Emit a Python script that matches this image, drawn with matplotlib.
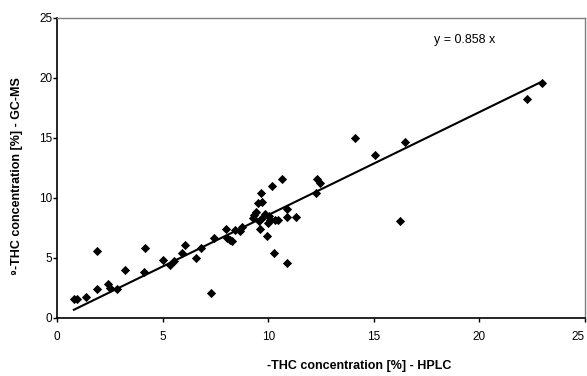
import matplotlib
matplotlib.use("Agg")
import matplotlib.pyplot as plt
import numpy as np

plt.rcParams['font.family'] = ['Liberation Sans', 'DejaVu Sans']

hplc = [0.80, 0.97, 1.35, 1.90, 1.90, 2.43, 2.50, 2.82, 3.20, 4.10, 4.18, 5.03,
        5.36, 5.54, 5.92, 6.06, 6.57, 6.81, 7.28, 7.44, 7.99, 8.07, 8.18, 8.27,
        8.42, 8.65, 8.75, 9.28, 9.33, 9.42, 9.50, 9.55, 9.62, 9.68, 9.72, 9.76,
        9.85, 9.92, 9.98, 10.05, 10.10, 10.20, 10.28, 10.32, 10.45, 10.65, 10.88,
        10.88, 10.88, 11.33, 12.27, 12.32, 12.46, 14.10, 15.08, 16.24, 16.46,
        22.27, 22.95]
gcms = [1.62, 1.62, 1.78, 5.60, 2.40, 2.80, 2.50, 2.40, 4.03, 3.83, 5.80, 4.80,
        4.43, 4.78, 5.45, 6.10, 5.03, 5.80, 2.05, 6.68, 7.41, 6.68, 6.50, 6.38,
        7.36, 7.28, 7.55, 8.35, 8.55, 8.80, 9.62, 8.10, 7.45, 10.40, 9.70, 8.40,
        8.65, 6.85, 7.90, 8.50, 8.20, 11.00, 5.45, 8.17, 8.17, 11.55, 9.05,
        8.44, 4.60, 8.44, 10.39, 11.60, 11.22, 15.03, 13.60, 8.08, 14.67,
        18.22, 19.56]
slope = 0.858
ticks = [0, 5, 10, 15, 20, 25]
eq_label = "y = 0.858 x"
xlabel = "-THC concentration [%] - HPLC"
ylabel = "\u2079-THC concentration [%] - GC-MS"

fig = plt.figure(figsize=(5.87, 3.76), dpi=100)
ax = fig.add_axes([57/587, 58/376, 528/587, 300/376])

ax.scatter(hplc, gcms, marker='D', s=22, color='black', zorder=3, linewidths=0)
xl = np.array([min(hplc), max(hplc)])
ax.plot(xl, slope * xl, color='black', lw=1.5, zorder=2)

ax.set_xlim(0, 25)
ax.set_ylim(0, 25)
ax.set_xticks(ticks)
ax.set_yticks(ticks)
ax.tick_params(axis='both', direction='out', length=3, width=1, labelsize=8.5, color='black')
ax.tick_params(axis='x', pad=6)
ax.tick_params(axis='y', pad=0.5)
for lab in ax.get_xticklabels():
    if lab.get_text() == '25':
        lab.set_horizontalalignment('right')
        lab.set_x(25)

for s in ['left', 'bottom']:
    ax.spines[s].set_color('black')
    ax.spines[s].set_linewidth(1.2)
for s in ['top', 'right']:
    ax.spines[s].set_color('#7f7f7f')
    ax.spines[s].set_linewidth(1.0)

ax.text(17.86, 23.17, eq_label, fontsize=9, va='center', ha='left')

fig.text(359/587, (376-366)/376, xlabel, fontsize=9, fontweight='bold', ha='center', va='center')
fig.text(17/587, (376-176.5)/376, ylabel, fontsize=9, fontweight='bold', ha='center', va='center',
         rotation=90, family=['Liberation Sans', 'DejaVu Sans'])

fig.savefig("out.png", dpi=100)
